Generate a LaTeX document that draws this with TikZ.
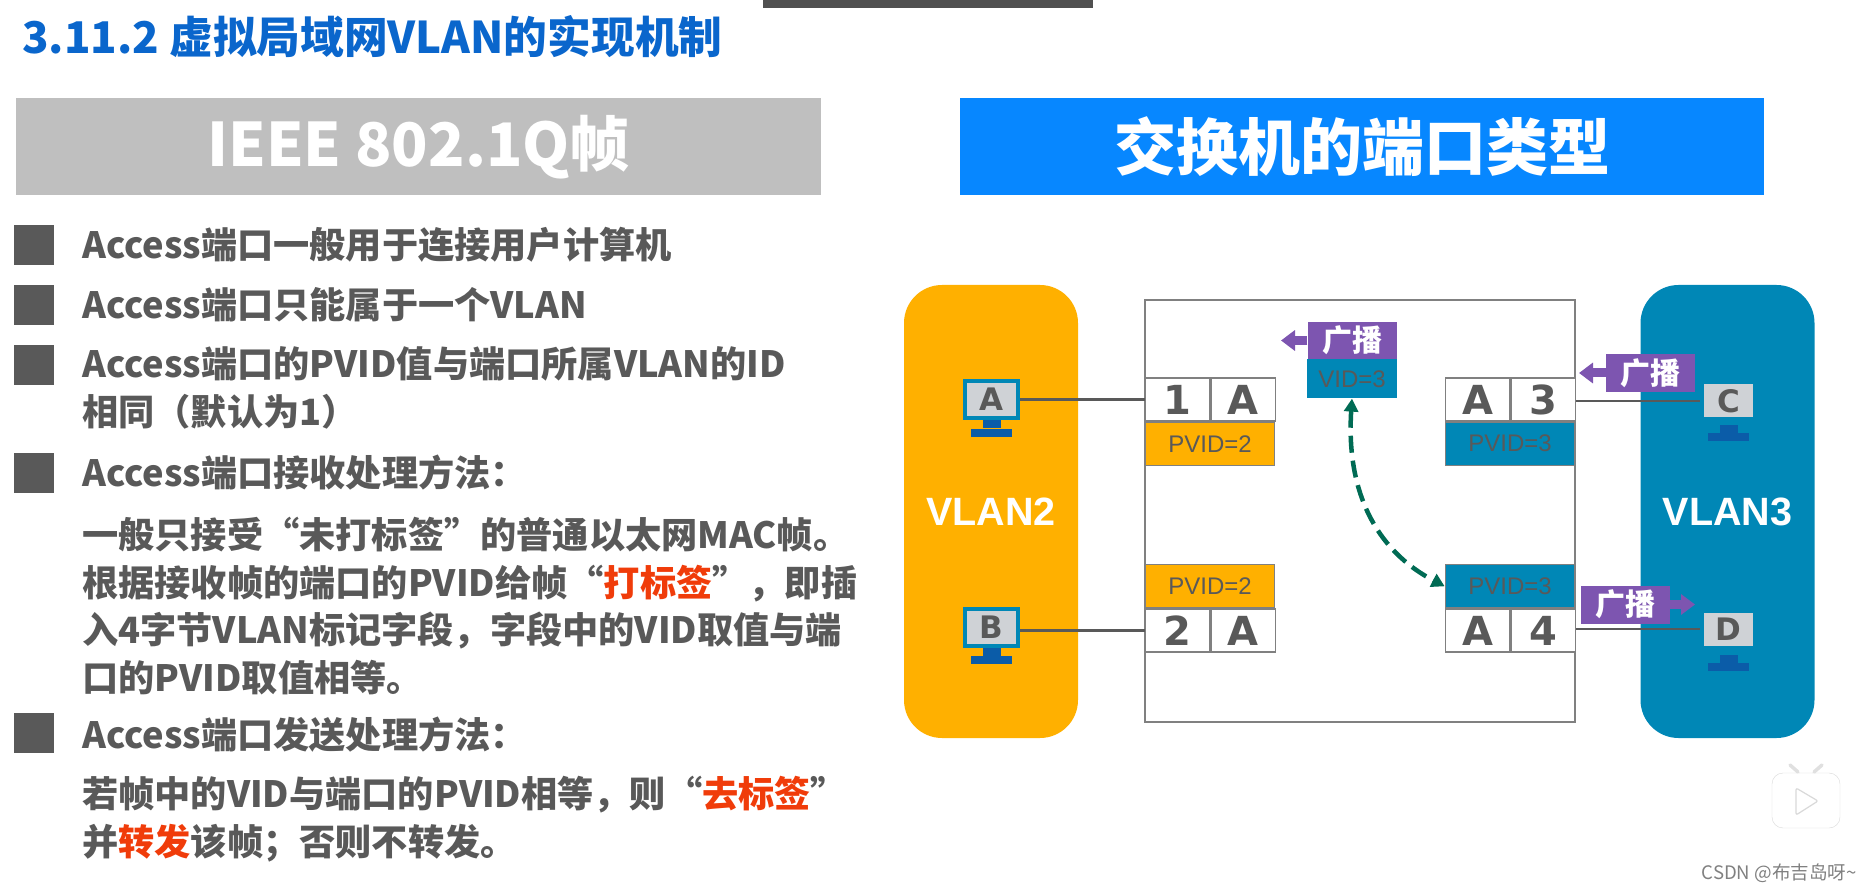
\documentclass[tikz,border=0pt]{standalone}
\usepackage{fontspec}
\setmainfont{Noto Sans CJK SC}
\newfontfamily\arialfont{Liberation Sans}
\newfontfamily\heavyfont{DejaVu Sans}
\usetikzlibrary{positioning,arrows.meta}

\definecolor{titleblue}{HTML}{0A66CC}
\definecolor{headblue}{HTML}{0787FF}
\definecolor{headgray}{HTML}{BFBFBF}
\definecolor{textgray}{HTML}{595959}
\definecolor{vlanorange}{HTML}{FFB000}
\definecolor{vlanblue}{HTML}{0087B6}
\definecolor{castpurple}{HTML}{7D55B0}
\definecolor{dashgreen}{HTML}{006B54}
\definecolor{hotred}{HTML}{F03C0A}
\definecolor{screengray}{HTML}{CFD2D6}
\definecolor{standblue}{HTML}{0B5CA8}

\tikzset{
  headbar/.style={minimum width=#1, minimum height=97pt, inner sep=0pt, text=white},
  bulletbox/.style={fill=textgray, minimum width=40pt, minimum height=40pt, inner sep=0pt},
  itemtext/.style={anchor=west, align=left, inner sep=0pt, text=textgray, font=\fontsize{36.2}{47.5}\selectfont\bfseries},
  vlanbox/.style={fill=#1, rounded corners=38pt, minimum width=174pt, minimum height=453pt, inner sep=0pt, text=white, font=\arialfont\fontsize{39.5}{40}\selectfont\bfseries},
  cellbox/.style={draw=gray, line width=1.2pt, fill=white, minimum width=64.5pt, minimum height=43pt, inner sep=0pt, text=textgray, font=\heavyfont\fontsize{40}{40}\selectfont\bfseries},
  pvidbox/.style={draw=gray, line width=1.2pt, fill=#1, minimum width=129.5pt, minimum height=43pt, inner sep=0pt, text=textgray, font=\arialfont\fontsize{24}{24}\selectfont},
  castbox/.style={fill=castpurple, minimum width=89pt, minimum height=38pt, inner sep=0pt, text=white, font=\fontsize{30}{30}\selectfont\bfseries},
  castarrow/.style={draw=castpurple, line width=9pt, -{Triangle[length=14pt, width=20pt]}},
  pcscreen/.style={draw=vlanblue, line width=4pt, fill=screengray, minimum width=53pt, minimum height=37pt, inner sep=0pt, text=textgray, font=\heavyfont\fontsize{31}{31}\selectfont\bfseries},
  pcneck/.style={fill=standblue, minimum width=18pt, minimum height=8pt, inner sep=0pt},
  pcbase/.style={fill=standblue, minimum width=41pt, minimum height=8pt, inner sep=0pt},
  linkline/.style={draw=textgray, line width=2.2pt}
}

\begin{document}
\begin{tikzpicture}[x=1pt, y=-1pt]
        \useasboundingbox (0,0) rectangle (1872,890);

        % Top strip and title
        \node[fill=textgray!90!black, minimum width=330pt, minimum height=8pt, inner sep=0pt] (topstrip) at (928,4) {};
        \node[anchor=west, inner sep=0pt, text=titleblue, font=\fontsize{43.7}{44}\selectfont\bfseries] (title) at (22,37) {3.11.2 虚拟局域网VLAN的实现机制};

        % Header bars
        \node[headbar=805pt, fill=headgray, font=\fontsize{60}{60}\selectfont\bfseries] (headleft) at (418.5,147) {IEEE 802.1Q帧};
        \node[headbar=804pt, fill=headblue, font=\fontsize{62}{62}\selectfont\bfseries] (headright) at (1362,147) {交换机的端口类型};

        % Left list
        \node[bulletbox] (b1) at (34,245) {};
        \node[bulletbox] (b2) at (34,305) {};
        \node[bulletbox] (b3) at (34,365) {};
        \node[bulletbox] (b4) at (34,473) {};
        \node[bulletbox] (b5) at (34,733) {};

        \node[itemtext] (t1) at (82,245) {Access端口一般用于连接用户计算机};
        \node[itemtext] (t2) at (82,305) {Access端口只能属于一个VLAN};
        \node[itemtext] (t3) at (82,388) {Access端口的PVID值与端口所属VLAN的ID\\相同（默认为1）};
        \node[itemtext] (t4) at (82,473) {Access端口接收处理方法：};
        \node[itemtext] (t4a) at (82,606) {一般只接受“未打标签”的普通以太网MAC帧。\\根据接收帧的端口的PVID给帧“\textcolor{hotred}{打标签}”，即插\\入4字节VLAN标记字段，字段中的VID取值与端\\口的PVID取值相等。};
        \node[itemtext] (t5) at (82,735) {Access端口发送处理方法：};
        \node[itemtext] (t5a) at (82,819) {若帧中的VID与端口的PVID相等，则“\textcolor{hotred}{去标签}”\\并\textcolor{hotred}{转发}该帧；否则不转发。};

        % VLAN areas and switch
        \node[vlanbox=vlanorange] (vlan2) at (991,511.5) {VLAN2};
        \node[vlanbox=vlanblue] (vlan3) at (1727.5,511.5) {VLAN3};
        \node[draw=gray, line width=1.4pt, fill=white, minimum width=430pt, minimum height=422pt, inner sep=0pt] (switch) at (1360,511) {};

        % Ports
        \node[cellbox] (p1) at (1177.5,399.5) {1};
        \node[cellbox, right=0pt of p1] (p1a) {A};
        \node[pvidbox=vlanorange, anchor=north west] (pvid1) at (p1.south west) {PVID=2};

        \node[cellbox] (p3a) at (1477.5,399.5) {A};
        \node[cellbox, right=0pt of p3a] (p3) {3};
        \node[pvidbox=vlanblue, anchor=north west] (pvid3) at (p3a.south west) {PVID=3};

        \node[cellbox] (p2) at (1177.5,630.5) {2};
        \node[cellbox, right=0pt of p2] (p2a) {A};
        \node[pvidbox=vlanorange, anchor=south west] (pvid2) at (p2.north west) {PVID=2};

        \node[cellbox] (p4a) at (1477.5,630.5) {A};
        \node[cellbox, right=0pt of p4a] (p4) {4};
        \node[pvidbox=vlanblue, anchor=south west] (pvid4) at (p4a.north west) {PVID=3};

        % Computers
        \node[pcscreen] (pca) at (991.5,399.5) {A};
        \node[pcneck, below=0pt of pca] (pcaneck) {};
        \node[pcbase, below=0pt of pcaneck] (pcabase) {};

        \node[pcscreen] (pcb) at (991.5,627) {B};
        \node[pcneck, below=0pt of pcb] (pcbneck) {};
        \node[pcbase, below=0pt of pcbneck] (pcbbase) {};

        \node[pcscreen] (pcc) at (1728.5,401) {C};
        \node[pcneck, below=3pt of pcc] (pccneck) {};
        \node[pcbase, below=0pt of pccneck] (pccbase) {};

        \node[pcscreen] (pcd) at (1728.5,629) {D};
        \node[pcneck, below=5pt of pcd] (pcdneck) {};
        \node[pcbase, below=0pt of pcdneck] (pcdbase) {};

        % Links
        \draw[linkline] (pca) -- (p1.west);
        \draw[linkline] (pcb.east |- p2.west) -- (p2.west);
        \draw[linkline] (p3.east |- pcc) -- (pcc);
        \draw[linkline] (p4.east |- pcd) -- (pcd);

        % Broadcast frames
        \node[castbox, minimum height=37pt] (cast1) at (1352,340.5) {广播};
        \node[fill=vlanblue, minimum width=90pt, minimum height=39pt, inner sep=0pt, text=textgray, font=\arialfont\fontsize{24}{24}\selectfont, below=0pt of cast1] (vid1) {VID=3};
        \node[castbox] (cast3) at (1650.5,373) {广播};
        \node[castbox] (cast4) at (1625,604.5) {广播};

        \coordinate (tip1) at (1281,340.5);
        \coordinate (tip3) at (1579,373);
        \coordinate (tip4) at (1695,604.5);
        \draw[castarrow] (cast1.west) -- (tip1);
        \draw[castarrow] (cast3.west) -- (tip3);
        \draw[castarrow] (cast4.east) -- (tip4);

        % Forwarding path
        \draw[{Triangle[length=13pt, width=14pt]}-{Triangle[length=13pt, width=14pt]}, draw=dashgreen, line width=4.5pt, dash pattern=on 17pt off 8pt] (vid1.south) .. controls (1346,490) and (1375,550) .. (pvid4.west);

        % Player badge and watermark
        \node[draw=black!15, fill=white, rounded corners=11pt, minimum width=68pt, minimum height=55pt, inner sep=0pt] (badge) at (1806,800.5) {};
        \coordinate (ant1) at (1790,765);
        \coordinate (ant1b) at (1798,772);
        \coordinate (ant2) at (1822,765);
        \coordinate (ant2b) at (1814,772);
        \draw[draw=black!12, line width=3.5pt, line cap=round] (ant1) -- (ant1b);
        \draw[draw=black!12, line width=3.5pt, line cap=round] (ant2) -- (ant2b);
        \draw[draw=black!15, line width=1.2pt, rounded corners=2pt] (1796,788) -- (1818,801) -- (1796,815) -- cycle;
        \node[anchor=east, inner sep=0pt, text=black!50, font=\fontsize{18.6}{19}\selectfont] (mark) at (1857,873) {CSDN @布吉岛呀\textasciitilde};
    \end{tikzpicture}
\end{document}
